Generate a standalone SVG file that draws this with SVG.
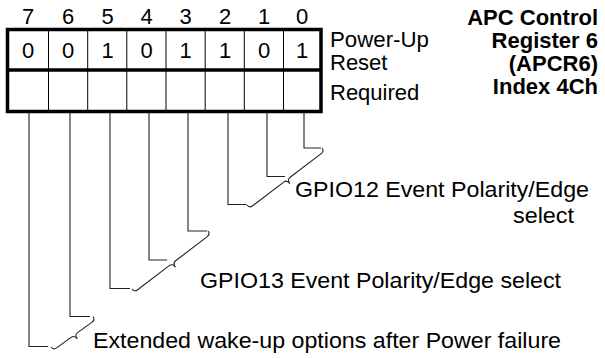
<svg xmlns="http://www.w3.org/2000/svg" width="605" height="358" viewBox="0 0 605 358">
<style>
text{font-family:"Liberation Sans",Arial,sans-serif;fill:#000}
.d{font-size:22px;text-anchor:middle}
.l{font-size:22px}
.t{font-size:22px;font-weight:bold;text-anchor:end}
.thick{fill:none;stroke:#000;stroke-width:3.5}
.thin{fill:none;stroke:#000;stroke-width:1}
.c{fill:none;stroke:#222;stroke-width:1.1}
</style>
<rect width="605" height="358" fill="#fff"/>
<g id="register">
<g id="bit-numbers">
<text class="d" x="28" y="24">7</text><text class="d" x="68" y="24">6</text><text class="d" x="107.5" y="24">5</text><text class="d" x="146.5" y="24">4</text><text class="d" x="185.5" y="24">3</text><text class="d" x="225" y="24">2</text><text class="d" x="264" y="24">1</text><text class="d" x="302" y="24">0</text>
</g>
<path class="thin" d="M48.5,29.5V111.5M87.7,29.5V111.5M126.8,29.5V111.5M166,29.5V111.5M205.2,29.5V111.5M244.3,29.5V111.5M283.5,29.5V111.5"/>
<rect class="thick" x="7.5" y="29.5" width="313.5" height="82"/>
<line class="thick" x1="7.5" y1="70" x2="321" y2="70"/>
<g id="reset-values">
<text class="d" x="28" y="57.5">0</text><text class="d" x="68" y="57.5">0</text><text class="d" x="107.5" y="57.5">1</text><text class="d" x="146.5" y="57.5">0</text><text class="d" x="185.5" y="57.5">1</text><text class="d" x="225" y="57.5">1</text><text class="d" x="264" y="57.5">0</text><text class="d" x="302" y="57.5">1</text>
</g>
<text class="l" x="330" y="46.5" textLength="99" lengthAdjust="spacingAndGlyphs">Power-Up</text>
<text class="l" x="330" y="70">Reset</text>
<text class="l" x="330" y="100">Required</text>
</g>
<g id="title">
<text class="t" x="598" y="24.5">APC Control</text>
<text class="t" x="598" y="47.5">Register 6</text>
<text class="t" x="598" y="70.5">(APCR6)</text>
<text class="t" x="598" y="93.5">Index 4Ch</text>
</g>
<g id="connectors">
<path class="c" d="M304,112V148H321M267,112V176.5H285M228,112V204.5H246.5M188,112V231H207M149,112V260H167M110,112V288.5H130M70,112V316.5H90M29,112V346.5H48"/>
<path class="c" d="M322,148Q324.42,151.18 321.24,153.6L290.1,177.26Q286.92,179.68 289.95,183.66Q286.92,179.68 283.74,182.1L252.6,205.76Q249.42,208.18 247,205"/>
<path class="c" d="M208,231Q210.43,234.18 207.25,236.61L175.61,260.75Q172.43,263.18 175.46,267.16Q172.43,263.18 169.25,265.61L137.61,289.75Q134.43,292.18 132,289"/>
<path class="c" d="M93,316.5Q95.35,319.74 92.11,322.09L77.59,332.64Q74.35,334.99 77.29,339.03Q74.35,334.99 71.11,337.34L56.59,347.89Q53.35,350.24 51,347"/>
</g>
<g id="label-gpio12">
<text class="l" x="295" y="197" textLength="294" lengthAdjust="spacingAndGlyphs">GPIO12 Event Polarity/Edge</text>
<text class="l" x="513" y="223" textLength="61" lengthAdjust="spacingAndGlyphs">select</text>
</g>
<g id="label-gpio13">
<text class="l" x="200" y="288" textLength="361" lengthAdjust="spacingAndGlyphs">GPIO13 Event Polarity/Edge select</text>
</g>
<g id="label-extended">
<text class="l" x="93" y="348" textLength="468" lengthAdjust="spacingAndGlyphs">Extended wake-up options after Power failure</text>
</g>
</svg>
